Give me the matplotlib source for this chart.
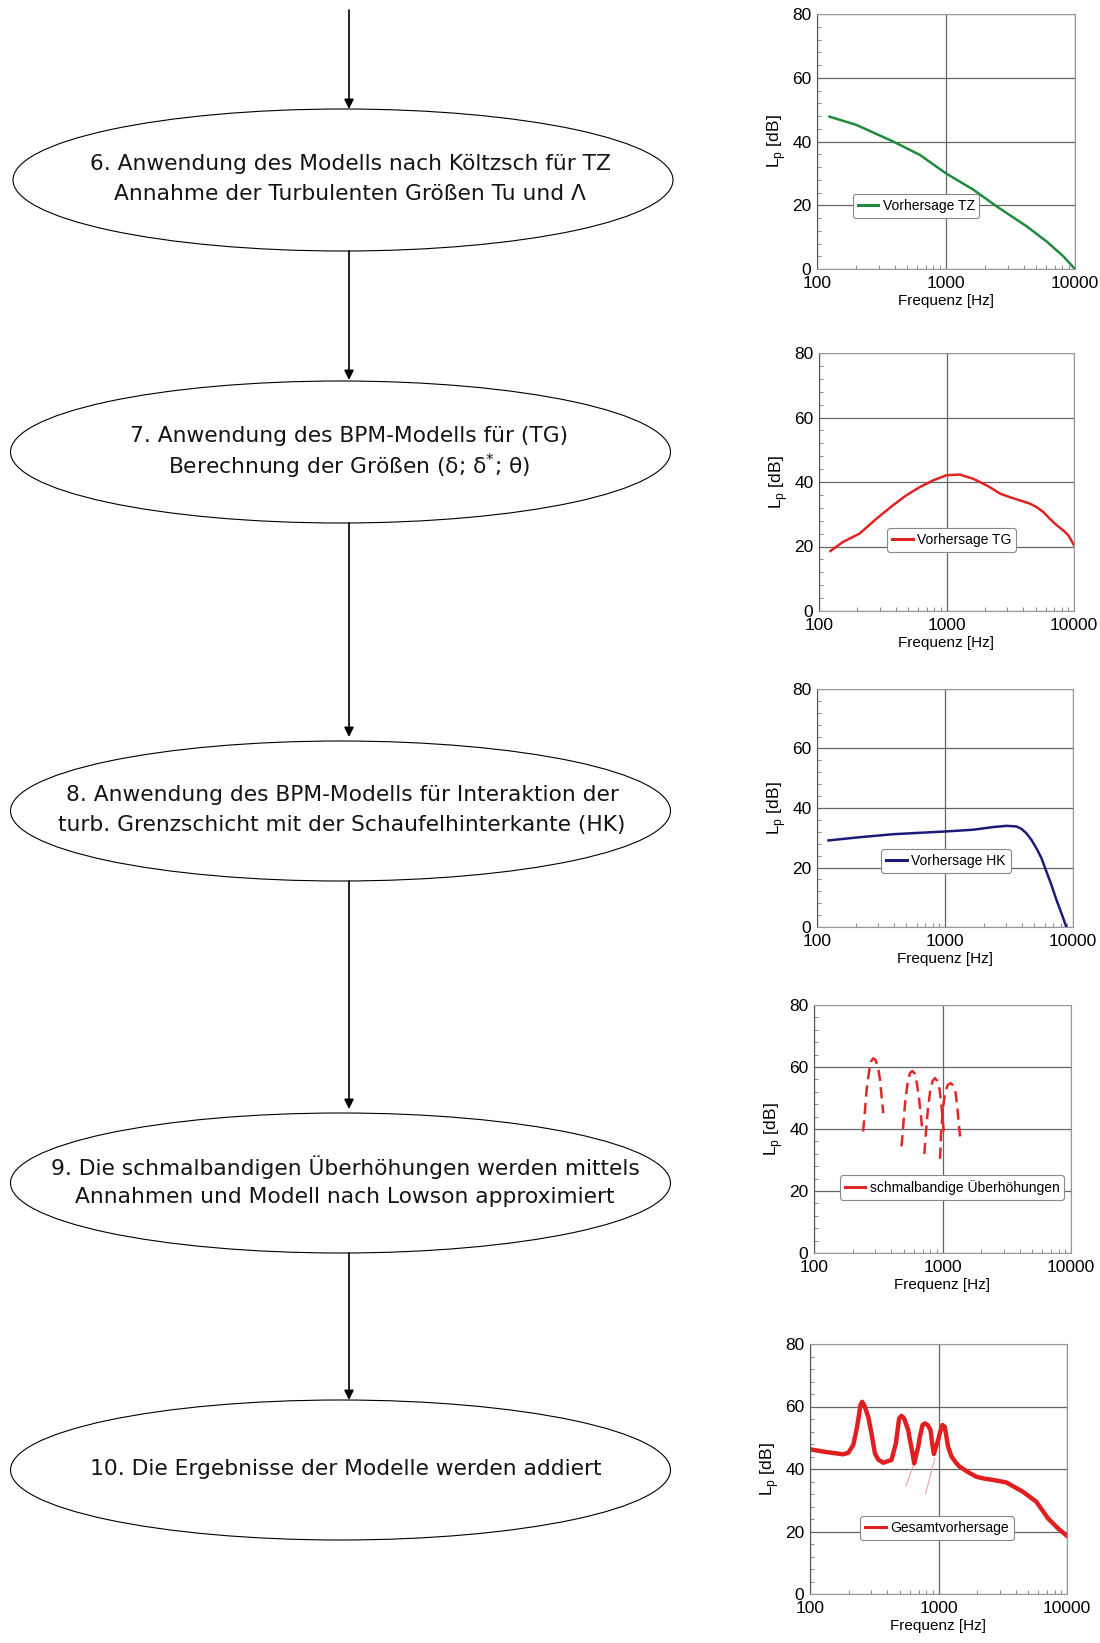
import matplotlib.pyplot as plt
from matplotlib.patches import Ellipse
from matplotlib.lines import Line2D
from matplotlib.ticker import LogLocator, MultipleLocator, NullFormatter, FixedLocator

W, H = 1100, 1643

# flow chart steps (text lines of each ellipse)
steps = [
    ["6. Anwendung des Modells nach Költzsch für TZ",
     "Annahme der Turbulenten Größen Tu und Λ"],
    ["7. Anwendung des BPM-Modells für (TG)",
     "Berechnung der Größen (δ; δ$^{*}$; θ)"],
    ["8. Anwendung des BPM-Modells für Interaktion der",
     "turb. Grenzschicht mit der Schaufelhinterkante (HK)"],
    ["9. Die schmalbandigen Überhöhungen werden mittels",
     "Annahmen und Modell nach Lowson approximiert"],
    ["10. Die Ergebnisse der Modelle werden addiert"],
]

# sub-chart data (frequency in Hz, level in dB)
tz_f = [125, 202, 389, 627, 1000, 1626, 2500, 4217, 6000, 8110, 10000]
tz_db = [47.8, 45.2, 40.0, 35.8, 30.0, 24.9, 19.5, 13.4, 8.7, 4.0, 0.0]

tg_f = [123, 154, 208, 282, 381, 485, 616, 785, 1000, 1273, 1618, 1828,
        2188, 2625, 3140, 3767, 4508, 5093, 5738, 6465, 7311, 8240, 9022, 10000]
tg_db = [18.6, 21.4, 24.0, 28.6, 32.8, 35.9, 38.4, 40.5, 42.1, 42.3, 41.0, 40.0,
         38.4, 36.4, 35.3, 34.3, 33.3, 32.2, 30.7, 28.6, 26.6, 25.0, 23.5, 20.4]

hk_f = [123, 218, 396, 1000, 1664, 2382, 3022, 3614, 3953, 4325, 4732, 5173,
        5662, 6192, 6776, 7412, 8110, 8870]
hk_db = [29.1, 30.2, 31.2, 32.1, 32.7, 33.6, 34.0, 33.8, 33.0, 31.5, 29.3, 26.5,
         23.2, 18.7, 14.2, 9.2, 4.7, 0.0]

peak1_f = [241, 249, 256, 267, 277, 289, 301, 314, 325, 335, 346]
peak1_db = [39.2, 45.6, 52.1, 58.0, 61.7, 62.8, 62.3, 60.1, 56.4, 51.0, 45.1]
peak2_f = [480, 495, 513, 535, 558, 582, 606, 632, 656, 676, 696]
peak2_db = [34.4, 41.3, 48.9, 54.8, 58.0, 58.7, 58.0, 54.8, 50.0, 45.1, 39.7]
peak3_f = [722, 744, 771, 804, 838, 874, 911, 951, 979, 1003, 1021]
peak3_db = [31.9, 39.2, 46.7, 52.6, 55.5, 56.4, 55.5, 52.6, 47.8, 43.5, 39.2]
peak4_f = [956, 974, 1003, 1046, 1097, 1158, 1215, 1267, 1306, 1337, 1369]
peak4_db = [30.4, 38.1, 46.2, 51.5, 54.2, 54.8, 54.0, 51.5, 46.7, 41.9, 37.6]

gs_f = [100, 135, 181, 199, 217, 230, 240, 247, 255, 265,
        284, 301, 320, 340, 372, 431, 466, 494, 515, 538,
        581, 598, 628, 647, 695, 716, 752, 783, 822, 867,
        893, 920, 994, 1023, 1074, 1119, 1153, 1188, 1262, 1380,
        1466, 1700, 1974, 2300, 2660, 3375, 4547, 5776, 7117, 8510, 10000]
gs_db = [46.3, 45.4, 44.7, 45.2, 47.7, 52.5, 57.0, 60.5, 61.5, 60.3,
         56.7, 51.4, 45.0, 43.0, 42.0, 42.9, 48.2, 56.2, 57.0, 56.3,
         52.5, 49.5, 45.0, 41.8, 47.1, 50.3, 54.1, 54.6, 54.1, 52.5,
         48.2, 44.8, 49.3, 51.4, 54.1, 53.5, 50.3, 47.1, 44.0, 41.8,
         40.7, 39.0, 37.5, 36.9, 36.5, 35.7, 32.7, 29.5, 24.2, 21.0, 18.6]
rest_a_f, rest_a_db = [557, 654], [34.6, 42.3]
rest_b_f, rest_b_db = [792, 937], [32.0, 43.4]

x_ticks = [100, 1000, 10000]
y_ticks = [0, 20, 40, 60, 80]

axfont = ['Liberation Sans', 'DejaVu Sans']

fig = plt.figure(figsize=(W / 100, H / 100), dpi=100)

# flow chart layer in pixel coordinates
flow = fig.add_axes([0, 0, 1, 1])
flow.set_xlim(0, W)
flow.set_ylim(H, 0)
flow.axis('off')

ell_y = [180, 452, 811, 1183, 1470]
ell_x = [343, 340.5, 340.5, 340.5, 340.5]
ell_h = [142, 142, 140, 140, 140]
txt_x = [350, 349, 342, 345, 346]
for i, lines in enumerate(steps):
    flow.add_patch(Ellipse((ell_x[i], ell_y[i]), 660, ell_h[i], fill=False,
                           edgecolor='black', lw=0.8))
    n = len(lines)
    for j, line in enumerate(lines):
        y = ell_y[i] + (j - (n - 1) / 2) * 30.5 - 1
        flow.text(txt_x[i], y, line, ha='center', va='center',
                  fontsize=15.7, family='DejaVu Sans', color='#151515')

arrows = [(10, 109), (251, 380), (523, 737), (881, 1109), (1253, 1400)]
for y0, y1 in arrows:
    flow.annotate('', xy=(349, y1), xytext=(349, y0),
                  arrowprops=dict(arrowstyle='-|>', color='black', lw=1.2,
                                  mutation_scale=14, shrinkA=0, shrinkB=0))


def small_chart(box):
    l, t, r, b = box
    ax = fig.add_axes([l / W, 1 - b / H, (r - l) / W, (b - t) / H])
    ax.set_xscale('log')
    ax.set_xlim(100, 10000)
    ax.set_ylim(0, 80)
    ax.xaxis.set_major_locator(FixedLocator(x_ticks))
    ax.set_xticklabels([str(v) for v in x_ticks], family=axfont, fontsize=12.5)
    ax.xaxis.set_minor_locator(LogLocator(subs=range(2, 10)))
    ax.xaxis.set_minor_formatter(NullFormatter())
    ax.set_yticks(y_ticks)
    ax.set_yticklabels([str(v) for v in y_ticks], family=axfont, fontsize=12.5)
    ax.yaxis.set_minor_locator(MultipleLocator(4))
    ax.tick_params(axis='x', which='major', length=0, pad=5)
    ax.tick_params(axis='y', which='major', length=0, pad=4)
    ax.tick_params(which='minor', direction='in', length=3, color='#777777')
    ax.grid(which='major', color='#666666', lw=0.9)
    for side in ['top', 'right', 'bottom']:
        ax.spines[side].set_color('#999999')
    ax.spines['left'].set_color('#555555')
    ax.set_xlabel('Frequenz [Hz]', family=axfont, fontsize=11, labelpad=2)
    ax.set_ylabel('L$_\\mathregular{p}$ [dB]', family=axfont, fontsize=12.5, labelpad=3)
    return ax


def add_legend(ax, xy, color, text):
    handle = Line2D([], [], color=color, lw=2.2)
    leg = ax.legend([handle], [text], loc='center', bbox_to_anchor=xy,
                    frameon=True, fancybox=True, handlelength=1.5,
                    handletextpad=0.3, borderpad=0.35, borderaxespad=0,
                    prop={'family': axfont, 'size': 10})
    leg.get_frame().set_edgecolor('#888888')
    leg.get_frame().set_linewidth(0.8)
    leg.get_frame().set_alpha(1)


ax1 = small_chart((817, 14, 1075, 269))
ax1.plot(tz_f, tz_db, color='#1e8c3c', lw=1.8)
add_legend(ax1, (0.384, 0.247), '#1e8c3c', 'Vorhersage TZ')

ax2 = small_chart((819, 353, 1074, 611))
ax2.plot(tg_f, tg_db, color='#e02424', lw=1.8)
add_legend(ax2, (0.52, 0.275), '#e02424', 'Vorhersage TG')

ax3 = small_chart((817, 689, 1073, 927))
ax3.plot(hk_f, hk_db, color='#1c1c78', lw=1.8)
add_legend(ax3, (0.504, 0.278), '#1c1c78', 'Vorhersage HK')

ax4 = small_chart((814, 1005, 1071, 1253))
for pf, pdb in [(peak1_f, peak1_db), (peak2_f, peak2_db),
                (peak3_f, peak3_db), (peak4_f, peak4_db)]:
    ax4.plot(pf, pdb, color='#e02828', lw=1.8, ls=(0, (4.5, 2.5)))
add_legend(ax4, (0.537, 0.263), '#e02828', 'schmalbandige Überhöhungen')

ax5 = small_chart((810, 1344, 1067, 1594))
ax5.plot(rest_a_f, rest_a_db, color='#f4a0a0', lw=0.8)
ax5.plot(rest_b_f, rest_b_db, color='#f4a0a0', lw=0.8)
ax5.plot(gs_f, gs_db, color='#e02020', lw=3.2, solid_joinstyle='round')
add_legend(ax5, (0.494, 0.264), '#e02020', 'Gesamtvorhersage')

fig.savefig('out.png', dpi=100)
